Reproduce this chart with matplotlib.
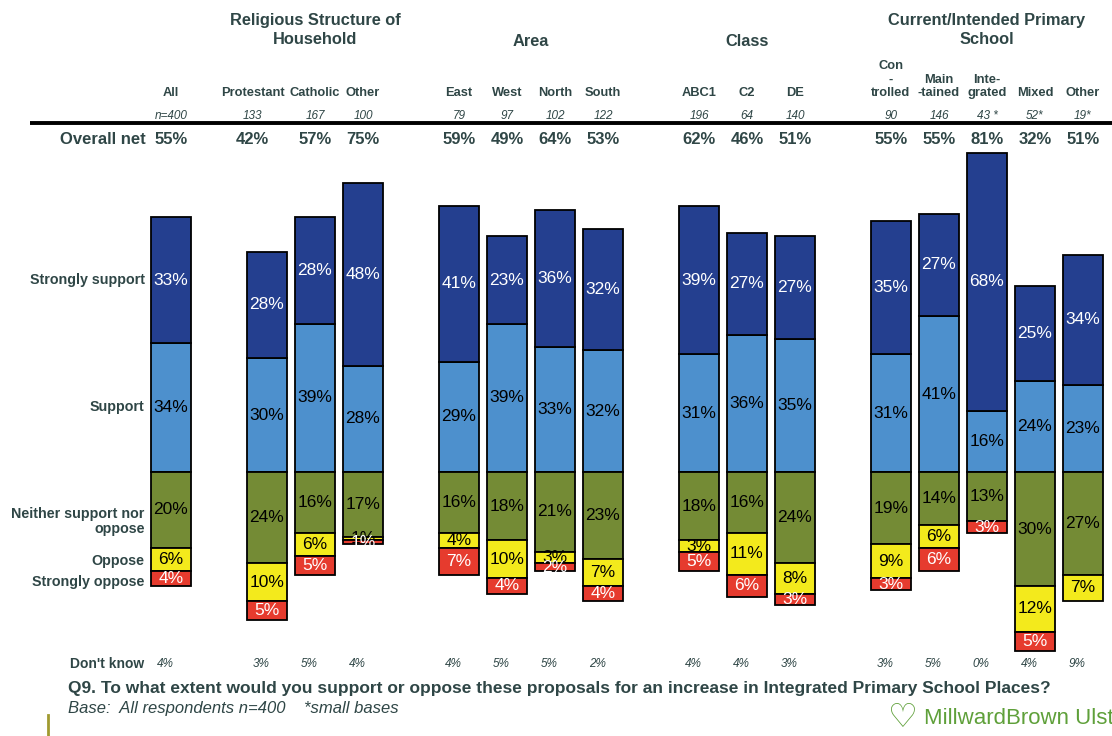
import matplotlib.pyplot as plt

plt.rcParams['font.family'] = ['Liberation Sans', 'DejaVu Sans']

# columns, grouped
groups = [
    ['All'],
    ['Protestant', 'Catholic', 'Other'],
    ['East', 'West', 'North', 'South'],
    ['ABC1', 'C2', 'DE'],
    ['Con\n-\ntrolled', 'Main\n-tained', 'Inte-\ngrated', 'Mixed', 'Other'],
]
group_titles = ['', 'Religious Structure of\nHousehold', 'Area', 'Class',
                'Current/Intended Primary\nSchool']
bases = ['n=400', '133', '167', '100', '79', '97', '102', '122',
         '196', '64', '140', '90', '146', '43 *', '52*', '19*']
overall_net = [55, 42, 57, 75, 59, 49, 64, 53, 62, 46, 51, 55, 55, 81, 32, 51]

strongly_support = [33, 28, 28, 48, 41, 23, 36, 32, 39, 27, 27, 35, 27, 68, 25, 34]
support = [34, 30, 39, 28, 29, 39, 33, 32, 31, 36, 35, 31, 41, 16, 24, 23]
neither = [20, 24, 16, 17, 16, 18, 21, 23, 18, 16, 24, 19, 14, 13, 30, 27]
oppose = [6, 10, 6, 1, 4, 10, 3, 7, 3, 11, 8, 9, 6, 0, 12, 7]
strongly_oppose = [4, 5, 5, 1, 7, 4, 2, 4, 5, 6, 3, 3, 6, 3, 5, 0]
dont_know = [4, 3, 5, 4, 4, 5, 5, 2, 4, 4, 3, 3, 5, 0, 4, 9]

c_ss, c_s, c_n, c_o, c_so = '#243F8F', '#4D90CD', '#748B35', '#F3EA1C', '#E63B2E'
txt = '#2F4646'

W, H = 1112, 736
fig = plt.figure(figsize=(W / 100, H / 100), dpi=100)
ax = fig.add_axes([0, 0, 1, 1])
x0, step, base_y, ppp = 171, 48, 472, 3.8
ax.set_xlim(-x0 / step, (W - x0) / step)
ax.set_ylim(-(H - base_y) / ppp, base_y / ppp)
ax.axis('off')


def ftext(px, py, s, **kw):
    fig.text(px / W, 1 - py / H, s, **kw)


def yrow(py):
    return (base_y - py) / ppp


# slot positions with a one-slot gap between groups
xs = []
centers = []
pos = 0
for g in groups:
    start = pos
    for _ in g:
        xs.append(pos)
        pos += 1
    centers.append((start + pos - 1) / 2)
    pos += 1
labels = [c for g in groups for c in g]

bw = 40 / 48
edge = dict(edgecolor='black', linewidth=1.3)
for i, x in enumerate(xs):
    s, ss = support[i], strongly_support[i]
    n, o, so = neither[i], oppose[i], strongly_oppose[i]
    segs = [(0, s, c_s, 'black', s), (s, ss, c_ss, 'white', ss),
            (-n, n, c_n, 'black', n), (-n - o, o, c_o, 'black', o),
            (-n - o - so, so, c_so, 'white', so)]
    for bottom, h, col, tc, v in segs:
        if v == 0:
            continue
        ax.bar(x, h, bottom=bottom, width=bw, color=col, **edge)
        ax.text(x, bottom + h / 2, f'{v}%', ha='center', va='center',
                color=tc, fontsize=12.5)
    # the Protestant header column sits a little left of its bar
    tx = x - 0.3 if i == 1 else x
    ax.text(tx, yrow(139), f'{overall_net[i]}%', ha='center', va='center',
            color=txt, fontsize=12, fontweight='bold')
    ax.text(tx, yrow(116), bases[i], ha='center', va='center',
            color=txt, fontsize=8.5, style='italic')
    ax.text(tx, yrow(99), labels[i], ha='center', va='bottom',
            color=txt, fontsize=9.3, fontweight='bold', linespacing=1.15)
    ax.text(x - 0.12, yrow(664), f'{dont_know[i]}%', ha='center', va='center',
            color=txt, fontsize=8.5, style='italic')

for c, t in zip(centers, group_titles):
    if t:
        ax.text(c, yrow(30) if '\n' in t else yrow(41),
                t, ha='center', va='center', color=txt, fontsize=11.8,
                fontweight='bold', linespacing=1.3)

# row names on the left, aligned with the "All" bar segments
lx = xs[0] - 0.55
kw = dict(ha='right', va='center', color=txt, fontweight='bold')
ax.text(lx, support[0] + strongly_support[0] / 2, 'Strongly support', fontsize=10.3, **kw)
ax.text(lx, support[0] / 2, 'Support', fontsize=10.3, **kw)
ax.text(lx, -neither[0] / 2 - 3, 'Neither support nor\noppose', fontsize=10.3,
        multialignment='right', linespacing=1.1, **kw)
ax.text(lx, -neither[0] - oppose[0] / 2 - 0.5, 'Oppose', fontsize=10.3, **kw)
ax.text(lx, -neither[0] - oppose[0] - strongly_oppose[0] / 2 - 1, 'Strongly oppose',
        fontsize=10.3, **kw)
ax.text(lx + 0.03, yrow(139), 'Overall net', fontsize=12, **kw)
ax.text(lx, yrow(664), "Don't know", fontsize=10, **kw)

ax.plot([-141 / step, (W - x0) / step], [yrow(123)] * 2, color='black',
        linewidth=2.8, solid_capstyle='butt')

ftext(68, 688, 'Q9. To what extent would you support or oppose these proposals for an '
      'increase in Integrated Primary School Places?', ha='left', va='center',
      color=txt, fontsize=12.5, fontweight='bold')
ftext(68, 709, 'Base:  All respondents n=400    *small bases', ha='left', va='center',
      color=txt, fontsize=12, style='italic')
ftext(903, 717, '\u2661', ha='center', va='center', color='#5FA03A', fontsize=24,
      fontweight='bold', family='DejaVu Sans')
ftext(924, 718, 'MillwardBrown Ulst', ha='left', va='center', color='#5FA03A',
      fontsize=16)
fig.add_artist(plt.Line2D([48 / W, 48 / W], [0, 21 / H], color='#A09A30', linewidth=2))

fig.savefig('out.png', dpi=100)
